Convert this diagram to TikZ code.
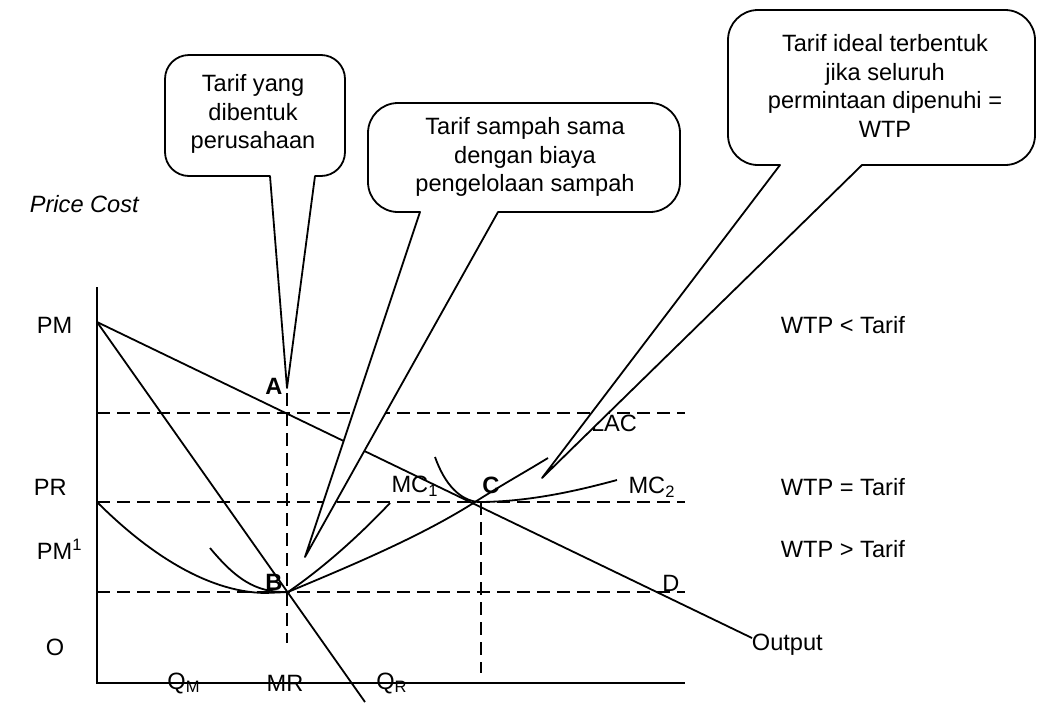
\documentclass[tikz,border=0pt]{standalone}
\usepackage{fontspec}
\setmainfont{Liberation Sans}

\begin{document}
\begin{tikzpicture}[x=0.5pt,y=-0.5pt,line width=0.9pt,
    font=\fontsize{11.8}{14.3}\selectfont,
    guide/.style={dash pattern=on 6.5pt off 3.5pt},
    lbl/.style={inner sep=0pt},
    bubble/.style={draw,fill=white,line join=round},
    bubbletext/.style={align=center,inner sep=0pt}]
  \useasboundingbox (0,0) rectangle (1037,702);
  % axes
  \draw (97,287) -- (97,683) -- (685,683);
  \draw[guide] (97,413) -- (685,413);
  \draw[guide] (97,502) -- (685,502);
  \draw[guide] (97,592) -- (685,592);
  \draw[guide] (287,393) -- (287,643);
  \draw[guide] (481,502) -- (481,673);
  % D and MR
  \draw (97,322) -- (752,638);
  \draw (97,322) -- (365,702);
  % LAC, MC1, MC2
  \draw (97,502) .. controls (145,550) and (205,592) .. (265,593) -- (288,592)
        .. controls (350,566) and (420,537) .. (475,502)
        .. controls (500,486) and (525,472) .. (548,458);
  \draw (210,548) .. controls (235,578) and (255,593) .. (288,592)
        .. controls (320,570) and (355,540) .. (390,503);
  \draw (435,457) .. controls (445,485) and (460,500) .. (478,502)
        .. controls (530,502) and (580,490) .. (617,480);
  % labels
  \node[lbl,anchor=west] (pc) at (29,204) {\itshape Price Cost};
  \node[lbl,anchor=west] (pm) at (36,325) {PM};
  \node[lbl,anchor=west] (pr) at (33,487) {PR};
  \node[lbl,anchor=west] (pm1) at (36,549) {PM\textsuperscript{1}};
  \node[lbl,anchor=west] (o) at (45,647) {O};
  \node[lbl] (qm) at (184,683) {Q\textsubscript{M}};
  \node[lbl] (mr) at (285,683) {MR};
  \node[lbl] (qr) at (392,683) {Q\textsubscript{R}};
  \node[lbl] (a) at (274,386) {\bfseries A};
  \node[lbl] (b) at (274,582) {\bfseries B};
  \node[lbl] (c) at (491,485) {\bfseries C};
  \node[lbl] (mc1) at (415,486) {MC\textsubscript{1}};
  \node[lbl] (mc2) at (652,487) {MC\textsubscript{2}};
  \node[lbl] (lac) at (614,423) {LAC};
  \node[lbl] (d) at (671,583) {D};
  \node[lbl,anchor=west] (out) at (751,645) {Output};
  \node[lbl,anchor=west] (wtp1) at (780,325) {WTP < Tarif};
  \node[lbl,anchor=west] (wtp2) at (780,487) {WTP = Tarif};
  \node[lbl,anchor=west] (wtp3) at (780,549) {WTP > Tarif};
  % callouts
  \draw[bubble] (270,176) [rounded corners=12pt] -- (165,176) -- (165,55)
        -- (345,55) -- (345,176) [sharp corners] -- (315,176) -- (287,388) -- cycle;
  \node[bubbletext] (firm) at (253,114) {Tarif yang\\dibentuk\\perusahaan};
  \draw[bubble] (420,212) [rounded corners=15pt] -- (368,212) -- (368,103)
        -- (680,103) -- (680,212) [sharp corners] -- (498,212) -- (305,557) -- cycle;
  \node[bubbletext] (cost) at (525,157) {Tarif sampah sama\\dengan biaya\\pengelolaan sampah};
  \draw[bubble] (780,165) [rounded corners=15pt] -- (728,165) -- (728,10)
        -- (1035,10) -- (1035,165) [sharp corners] -- (862,165) -- (542,478) -- cycle;
  \node[bubbletext] (ideal) at (885,86) {Tarif ideal terbentuk\\jika seluruh\\permintaan dipenuhi =\\WTP};
\end{tikzpicture}
\end{document}
